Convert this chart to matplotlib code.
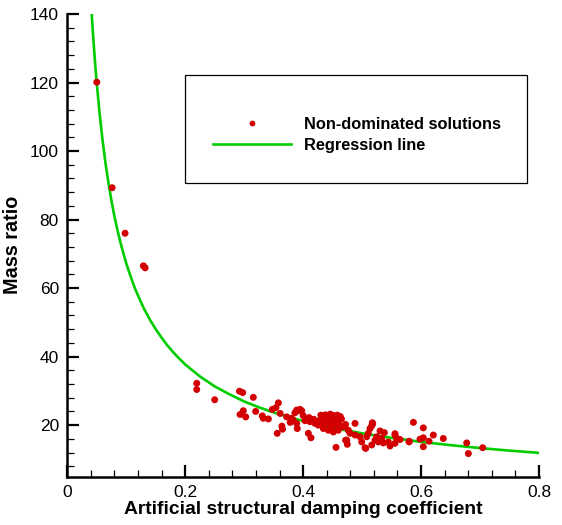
import matplotlib
matplotlib.use("Agg")
import matplotlib.pyplot as plt
from matplotlib.lines import Line2D
from matplotlib.patches import Rectangle
from matplotlib.ticker import MultipleLocator

# ---- data ----
sol_x = [0.050, 0.076, 0.098, 0.129, 0.132,
         0.2195, 0.2195, 0.250, 0.292, 0.2975, 0.3155, 0.293, 0.2985, 0.3026, 0.3195,
         0.3307, 0.3324, 0.341, 0.3477, 0.354, 0.358, 0.361, 0.364, 0.365, 0.356,
         0.372, 0.386, 0.389, 0.389, 0.390,
         0.392, 0.3975, 0.3947, 0.4088, 0.4133, 0.4031, 0.4116, 0.4201, 0.4257, 0.4314,
         0.4359, 0.4427, 0.4484, 0.454, 0.4608, 0.440, 0.4484, 0.4569, 0.4342, 0.4427,
         0.4512, 0.4596, 0.488, 0.4739, 0.4749, 0.4557, 0.4766, 0.4795, 0.488, 0.4964,
         0.4993, 0.506, 0.5078, 0.5134, 0.5173, 0.5163, 0.5163, 0.5219, 0.5248, 0.5304,
         0.5377, 0.5276, 0.536, 0.5445, 0.5473, 0.5558, 0.5587, 0.5558, 0.5643, 0.5332,
         0.5105,
         0.430, 0.438, 0.446, 0.452, 0.458, 0.463, 0.427, 0.436, 0.445, 0.452,
         0.460, 0.432, 0.465, 0.418, 0.410, 0.400, 0.380, 0.378, 0.383, 0.468, 0.472,
         0.5795, 0.587, 0.6038, 0.5982, 0.6038, 0.6038, 0.6135, 0.6208, 0.6377, 0.6774,
         0.6802, 0.7045, 0.580,
         0.518, 0.5558, 0.472, 0.505]
sol_y = [120.1, 89.3, 76.0, 66.5, 65.9,
         32.2, 30.4, 27.4, 29.9, 29.5, 28.1, 23.1, 24.2, 22.4, 24.0,
         22.7, 22.0, 21.8, 24.6, 25.1, 26.5, 23.4, 19.7, 18.8, 17.6,
         22.4, 23.6, 24.4, 20.5, 19.0,
         24.2, 24.2, 24.6, 17.6, 16.3, 21.3, 21.0, 20.5, 20.0, 21.9,
         22.6, 22.4, 21.9, 22.2, 21.6, 20.5, 19.5, 20.0, 19.0, 18.5,
         18.0, 18.5, 20.5, 15.6, 14.4, 13.5, 18.5, 17.6, 17.1, 16.6,
         15.1, 13.2, 16.6, 19.0, 20.7, 19.8, 14.2, 15.6, 16.6, 18.3,
         17.8, 15.1, 14.8, 15.1, 13.9, 17.1, 16.1, 14.7, 15.8, 16.1,
         17.6,
         22.9, 23.0, 23.2, 22.8, 22.9, 22.5, 21.3, 21.0, 20.9, 21.2,
         20.6, 20.3, 21.8, 21.7, 22.2, 22.8, 22.0, 20.8, 21.5, 19.5, 20.2,
         15.1, 20.8, 19.2, 15.9, 16.3, 13.7, 15.3, 17.1, 16.1, 14.8,
         11.7, 13.4, 15.3,
         20.4, 17.5, 15.6, 13.4]

reg_x = [0.0414, 0.043, 0.045, 0.0475, 0.050, 0.055, 0.060, 0.065, 0.070, 0.075,
         0.080, 0.085, 0.090, 0.095, 0.100, 0.105, 0.110, 0.115, 0.120, 0.130,
         0.140, 0.150, 0.160, 0.170, 0.180, 0.190, 0.200, 0.225, 0.250, 0.275,
         0.300, 0.325, 0.350, 0.375, 0.400, 0.425, 0.450, 0.475, 0.500, 0.525,
         0.550, 0.600, 0.650, 0.700, 0.750, 0.800]
reg_y = [140.1, 135.7, 130.7, 124.9, 119.7, 110.6, 102.9, 96.2, 90.5, 85.4,
         80.9, 77.0, 73.4, 70.2, 67.2, 64.6, 62.1, 59.8, 57.8, 54.0,
         50.8, 48.0, 45.5, 43.2, 41.2, 39.4, 37.7, 34.2, 31.3, 29.0,
         26.9, 25.2, 23.7, 22.4, 21.2, 20.2, 19.2, 18.4, 17.6, 16.9,
         16.3, 15.1, 14.15, 13.3, 12.55, 11.9]

x_ticks = [0, 0.2, 0.4, 0.6, 0.8]
x_tick_labels = ["0", "0.2", "0.4", "0.6", "0.8"]
y_ticks = [20, 40, 60, 80, 100, 120, 140]

legend_labels = ["Non-dominated solutions", "Regression line"]
x_label = "Artificial structural damping coefficient"
y_label = "Mass ratio"

# ---- style ----
RED = "#d20000"
GREEN = "#00cc00"
plt.rcParams["font.family"] = ["Liberation Sans", "DejaVu Sans"]

W, H = 562, 525
fig = plt.figure(figsize=(W / 100, H / 100), dpi=100)
L, R, T, B = 67.3, 539.0, 14.0, 476.5
ax = fig.add_axes([L / W, 1 - B / H, (R - L) / W, (B - T) / H])

ax.plot(reg_x, reg_y, color=GREEN, lw=1.9, zorder=2, clip_on=True,
        solid_joinstyle="round")
ax.scatter(sol_x, sol_y, s=25, color=RED, edgecolors="none", zorder=3)

ax.set_xlim(0, 0.8)
ax.set_ylim(5, 140)
ax.set_xticks(x_ticks)
ax.set_xticklabels(x_tick_labels)
ax.set_yticks(y_ticks)
ax.xaxis.set_minor_locator(MultipleLocator(0.04))
ax.yaxis.set_minor_locator(MultipleLocator(4))

for s in ["top", "right"]:
    ax.spines[s].set_visible(False)
for s in ["left", "bottom"]:
    ax.spines[s].set_linewidth(1.8)

ax.tick_params(which="major", direction="in", length=8.6, width=1.6,
               labelsize=12.5, pad=6)
ax.tick_params(which="minor", direction="in", length=5, width=0.9)

ax.set_xlabel(x_label, fontsize=13.9, fontweight="bold", labelpad=1)
ax.set_ylabel(y_label, fontsize=14.2, fontweight="bold", labelpad=6)

# legend frame
ax.add_patch(Rectangle((0.2495, 0.6346), 0.9746 - 0.2495, 0.868 - 0.6346,
                       transform=ax.transAxes, fill=False, ec="black",
                       lw=0.9, zorder=5, clip_on=False))
handles = [Line2D([], [], ls="none", marker="o", ms=4.2, color=RED, mec="none"),
           Line2D([], [], color=GREEN, lw=1.9)]
ax.legend(handles, legend_labels, loc="upper left",
          bbox_to_anchor=(0.309, 0.778), frameon=False, borderpad=0,
          borderaxespad=0, handlelength=4.75, handletextpad=0.8,
          labelspacing=0.36, prop={"weight": "bold", "size": 11.8})

fig.savefig("out.png", dpi=100)
